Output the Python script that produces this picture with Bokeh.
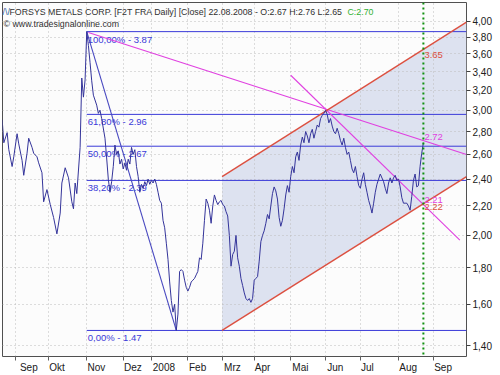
from bokeh.plotting import figure
from bokeh.models import FixedTicker, CustomJSTickFormatter, Range1d, Label, Span
from bokeh.embed import file_html
from bokeh.resources import INLINE
from bokeh.core.properties import value

# ---- data (x = trading-day index, 0 = first trading day of Sep 2007) ----
day = [-8, -7, -5, -4, -2, -1, 1, 2, 4, 5, 7, 8, 10, 11, 13, 14, 16, 17, 19, 21, 23, 25, 27, 28, 30, 32,
       34, 35, 36, 37, 39, 40, 41, 42, 43,
       44, 45, 46, 47, 49, 50, 51, 52, 54, 55, 56, 57, 58, 59, 60, 61, 62, 63, 64, 65, 66, 67, 68, 69,
       70, 71, 72, 73, 74, 75, 76, 77, 78, 79, 80, 81, 82, 83, 84, 85, 86, 87, 88, 89, 90, 91, 92, 93,
       94, 95, 96, 97, 98, 99, 100, 101, 102, 103, 104, 105, 106, 107, 108, 109, 110, 111, 112, 113,
       114, 115, 116, 117, 118, 119, 120, 121, 122, 123, 124, 125, 126, 127, 128, 129, 130, 131, 132,
       133, 134, 135, 136, 137, 138, 139, 140, 141, 142, 143, 144, 145, 146, 147, 148, 149, 150, 151,
       152, 153, 154, 155, 156, 157, 158, 159, 160, 161, 162, 163, 164, 165, 166, 167, 168, 169, 170,
       171, 172, 173, 174, 175, 176, 177, 178, 179, 180, 181, 182, 183, 184, 185, 186, 187, 188, 189,
       190, 191, 192, 193, 194, 195, 196, 197, 198, 199, 200, 201, 202, 203, 204, 205, 206, 207, 208,
       209, 210, 211, 212, 213, 214, 215, 216, 217, 218, 219, 220, 222, 223, 224, 225, 226, 227, 228,
       229, 230, 231, 232, 233, 234, 235, 236, 237, 238, 239, 240, 241, 242, 243, 244, 245, 246]
close = [2.91, 2.70, 2.79, 2.64, 2.50, 2.58, 2.78, 2.69, 2.55, 2.43, 2.61, 2.74, 2.66, 2.61, 2.58, 2.53,
         2.45, 2.23, 2.32, 2.21, 2.12, 2.01, 2.15, 2.37, 2.49, 2.41,
         2.23, 2.18, 2.37, 2.29, 2.66, 3.33, 3.13, 3.31, 3.87,
         3.70, 3.50, 3.30, 3.15, 3.05, 2.97, 3.00, 2.92, 2.74, 2.57, 2.40, 2.30, 2.38, 2.50, 2.68, 2.60,
         2.63, 2.52, 2.56, 2.48, 2.53, 2.47, 2.56, 2.52,
         2.66, 2.60, 2.64, 2.50, 2.42, 2.30, 2.36, 2.33, 2.38, 2.35, 2.40, 2.36, 2.39, 2.37, 2.40, 2.36,
         2.30, 2.24, 2.22, 2.10, 2.05, 1.95, 1.85, 1.72,
         1.62, 1.56, 1.60, 1.47, 1.55, 1.78, 1.79, 1.78, 1.73, 1.69, 1.67, 1.69, 1.72, 1.73, 1.74, 1.76,
         1.78, 1.86, 1.85, 1.95,
         2.10, 2.25, 2.22, 2.17, 2.08, 2.20, 2.28, 2.24, 2.21, 2.23, 2.24, 2.21, 2.20, 2.16, 2.13, 2.00,
         1.81, 1.88, 1.90,
         2.00, 1.86, 1.81, 1.74, 1.70, 1.66, 1.63, 1.62, 1.63, 1.61, 1.63, 1.73, 1.74, 1.75, 1.84, 1.96,
         2.00, 2.03, 2.08,
         2.14, 2.11, 2.20, 2.29, 2.34, 2.31, 2.25, 2.12, 2.06, 2.10, 2.18, 2.28, 2.35, 2.30, 2.42, 2.50,
         2.45, 2.58, 2.62,
         2.55, 2.68, 2.75, 2.70, 2.80, 2.76, 2.70, 2.78, 2.82, 2.74, 2.80, 2.86, 2.84, 2.92, 2.95, 2.97,
         3.00, 2.96, 2.88,
         2.92, 2.85, 2.80, 2.78, 2.83, 2.78, 2.72, 2.68, 2.74, 2.66, 2.60, 2.62, 2.55, 2.48, 2.45, 2.50,
         2.42, 2.35, 2.33,
         2.40, 2.45, 2.36, 2.30, 2.24, 2.20, 2.15, 2.22, 2.30, 2.36, 2.40, 2.44, 2.38, 2.33, 2.29, 2.37,
         2.41, 2.37, 2.41,
         2.43, 2.39, 2.40, 2.34, 2.26, 2.22, 2.22, 2.22, 2.20, 2.17, 2.27, 2.39, 2.44, 2.34, 2.35, 2.50,
         2.61, 2.70]

month_idx = [0, 20, 43, 65, 82, 104, 125, 144, 166, 187, 208, 231, 252]
month_lbl = ["Sep", "Okt", "Nov", "Dez", "2008", "Feb", "Mrz", "Apr", "Mai", "Jun", "Jul", "Aug", "Sep"]
price_ticks = [1.4, 1.6, 1.8, 2.0, 2.2, 2.4, 2.6, 2.8, 3.0, 3.2, 3.4, 3.6, 3.8, 4.0]

fib_pct = ["100,00%", "61,80%", "50,00%", "38,20%", "0,00%"]
fib_lvl = [3.87, 2.96, 2.67, 2.39, 1.47]
fib_start = 43

trend_x = [43, 97]
trend_y = [3.87, 1.47]
res1_x = [44, 272]
res1_y = [3.86, 2.60]
res2_x = [166, 268]
res2_y = [3.36, 1.97]
chan_x = [124.6, 272]
chan_up_y = [2.42, 3.99]
chan_lo_y = [1.47, 2.42]
last_day = 246
red_marks = [3.65, 2.22]
mag_marks = [2.72, 2.21]

X0, X1 = -7.8, 272
Y0, Y1 = 1.351, 4.253

FONT = value("Liberation Sans")
BLUE = "#3a3ad8"
PRICE = "#34349a"
MAG = "#e040e0"
RED = "#dc5040"
TXT = "#202020"

# approximate glyph advance widths (em/1000, Arial metrics) to left-align centred axis labels
_W = {"S": 667, "e": 556, "p": 556, "O": 778, "k": 500, "t": 278, "N": 722, "o": 556, "v": 500,
      "D": 722, "z": 500, "2": 556, "0": 556, "8": 556, "F": 611, "b": 556, "M": 833, "r": 333,
      "A": 667, "a": 556, "i": 222, "J": 500, "u": 556, "n": 556, "l": 222, "g": 556}
LBL_PX = 10


def left_pad(s, gap=2):
    w = sum(_W.get(c, 556) for c in s) * LBL_PX / 1000
    n = round((w + gap) / (278 * LBL_PX / 1000))
    return "\u00a0" * n + s


p = figure(width=500, height=375, x_range=Range1d(X0, X1), y_range=Range1d(Y0, Y1),
           y_axis_type="log", y_axis_location="right", output_backend="svg",
           toolbar_location=None, min_border_left=2, min_border_top=2,
           min_border_right=34, min_border_bottom=18)
p.background_fill_color = "#fcfcfc"
p.border_fill_color = "#ffffff"
p.outline_line_color = "#505050"

# channel shading
p.patch([chan_x[0], chan_x[1], chan_x[1], chan_x[0]],
        [chan_lo_y[0], chan_lo_y[1], chan_up_y[1], chan_up_y[0]],
        fill_color="#dde2f0", line_color=None, level="image")

# grids
for g in (p.xgrid, p.ygrid):
    g.grid_line_color = "#bcbcbc"
    g.grid_line_dash = "1 3"

# axes
xa = p.xaxis[0]
xa.ticker = FixedTicker(ticks=month_idx)
xa.major_label_overrides = {m: left_pad(l) for m, l in zip(month_idx, month_lbl)}
xa.axis_line_color = None
xa.major_tick_in = 0
xa.major_tick_out = 4
xa.major_tick_line_color = "#606060"
xa.minor_tick_line_color = None
xa.major_label_standoff = 1
xa.major_label_text_font = "Liberation Sans"
xa.major_label_text_font_size = f"{LBL_PX}px"
xa.major_label_text_color = TXT

ya = p.yaxis[0]
ya.ticker = FixedTicker(ticks=price_ticks)
ya.formatter = CustomJSTickFormatter(code="return tick.toFixed(2).replace('.', ',');")
ya.axis_line_color = None
ya.major_tick_in = 0
ya.major_tick_out = 4
ya.major_tick_line_color = "#404040"
ya.minor_tick_line_color = None
ya.major_label_standoff = 2
ya.major_label_text_font = "Liberation Sans"
ya.major_label_text_font_size = "10px"
ya.major_label_text_color = TXT

# fibonacci levels
for lvl in fib_lvl:
    p.line([fib_start, X1], [lvl, lvl], line_color=BLUE, line_width=1.0)
p.text(x=[fib_start] * len(fib_lvl), y=fib_lvl,
       text=[f"{a} - {b:.2f}" for a, b in zip(fib_pct, fib_lvl)],
       x_offset=1, y_offset=2, text_baseline="top", text_align="left",
       text_color=BLUE, text_font=FONT, text_font_size="9.5px")

# trend lines
p.line(trend_x, trend_y, line_color="#4848c0", line_width=1.1)
p.line(res1_x, res1_y, line_color=MAG, line_width=1.1)
p.line(res2_x, res2_y, line_color=MAG, line_width=1.1)
p.line(chan_x, chan_up_y, line_color=RED, line_width=1.4)
p.line(chan_x, chan_lo_y, line_color=RED, line_width=1.4)

# price
p.line(day, close, line_color=PRICE, line_width=1.0)

# last-day marker
p.add_layout(Span(location=last_day, dimension="height", line_color="#109010",
                  line_dash="2 3", line_width=2))
p.text(x=[last_day], y=[red_marks[0]], text=[f"{red_marks[0]:.2f}"], x_offset=1, y_offset=2,
       text_baseline="top", text_color=RED, text_font=FONT, text_font_size="9.5px")
p.text(x=[last_day], y=[red_marks[1]], text=[f"{red_marks[1]:.2f}"], x_offset=1, y_offset=1,
       text_baseline="top", text_color=RED, text_font=FONT, text_font_size="9.5px")
p.text(x=[last_day] * 2, y=mag_marks, text=[f"{v:.2f}" for v in mag_marks], x_offset=1,
       y_offset=[0, -2], text_baseline="bottom", text_color=MAG, text_font=FONT,
       text_font_size="9.5px")

# header texts
p.text(x=[X0], y=[Y1], text=["/\\/"], x_offset=0, y_offset=4, text_baseline="top",
       text_color="#3060a0", text_font=FONT, text_font_size="8.8px")
p.text(x=[X0], y=[Y1],
       text=["FORSYS METALS CORP. [F2T FRA  Daily] [Close] 22.08.2008 - O:2.67 H:2.76 L:2.65"],
       x_offset=7, y_offset=4, text_baseline="top", text_color="#303030",
       text_font=FONT, text_font_size="8.8px")
p.text(x=[X0], y=[Y1], text=["C:2.70"], x_offset=345, y_offset=4, text_baseline="top",
       text_color="#30b030", text_font=FONT, text_font_size="8.8px")
p.text(x=[X0], y=[Y1], text=["\u00a9 www.tradesignalonline.com"], x_offset=1, y_offset=16,
       text_baseline="top", text_color="#303030", text_font=FONT, text_font_size="8.8px")

p.add_layout(Label(x=X1, y=Y1, text="\u20ac", x_offset=4, text_baseline="top",
                   text_font="Liberation Sans", text_font_size="10px", text_color=TXT))

open("out.html", "w").write(file_html(p, INLINE))
